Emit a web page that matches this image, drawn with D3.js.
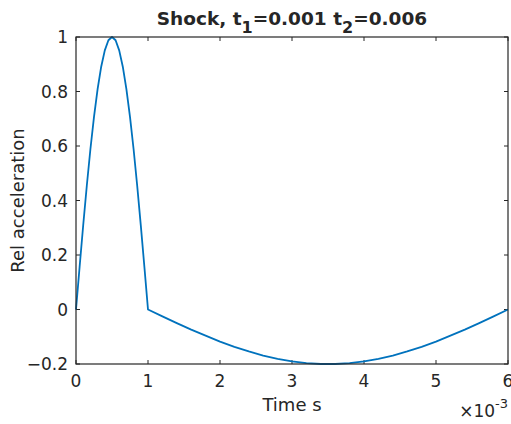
<!DOCTYPE html>
<html>
<head>
<meta charset="utf-8">
<style>
  body { margin: 0; background: #fff; }
  text { font-family: "DejaVu Sans", sans-serif; fill: #262626; }
</style>
</head>
<body>
<svg width="511" height="424"></svg>
<script src="https://d3js.org/d3.v7.min.js"></script>
<script>
// time in units of 1e-3 s
const pulseTime = [0, 0.05, 0.1, 0.15, 0.2, 0.25, 0.3, 0.35, 0.4, 0.45, 0.5,
                   0.55, 0.6, 0.65, 0.7, 0.75, 0.8, 0.85, 0.9, 0.95, 1.0];
const pulseValue = [0, 0.156, 0.309, 0.454, 0.588, 0.707, 0.809, 0.891, 0.951, 0.988, 1,
                    0.988, 0.951, 0.891, 0.809, 0.707, 0.588, 0.454, 0.309, 0.156, 0];
const tailTime = [1.2, 1.4, 1.6, 1.8, 2.0, 2.2, 2.4, 2.6, 2.8, 3.0, 3.2, 3.4,
                  3.6, 3.8, 4.0, 4.2, 4.4, 4.6, 4.8, 5.0, 5.2, 5.4, 5.6, 5.8, 6.0];
const tailValue = [-0.025, -0.050, -0.074, -0.096, -0.118, -0.137, -0.154, -0.169, -0.181, -0.190, -0.197, -0.200,
                   -0.200, -0.197, -0.190, -0.181, -0.169, -0.154, -0.137, -0.118, -0.096, -0.074, -0.050, -0.025, 0];
const xTicks = [0, 1, 2, 3, 4, 5, 6];
const yTicks = [-0.2, 0, 0.2, 0.4, 0.6, 0.8, 1];

const svg = d3.select("svg");
const mLeft = 76, mRight = 508, mTop = 37, mBottom = 364;

const x = d3.scaleLinear().domain([0, 6]).range([mLeft, mRight]);
const y = d3.scaleLinear().domain([-0.2, 1]).range([mBottom, mTop]);

const pts = pulseTime.map((t, i) => [t, pulseValue[i]])
  .concat(tailTime.map((t, i) => [t, tailValue[i]]));

const axisColor = "#262626";
const tickLen = 4;

// ticks (inward, on all four sides)
const g = svg.append("g").attr("stroke", axisColor).attr("stroke-width", 1);
xTicks.forEach(t => {
  g.append("line").attr("x1", x(t)).attr("x2", x(t)).attr("y1", mBottom).attr("y2", mBottom - tickLen);
  g.append("line").attr("x1", x(t)).attr("x2", x(t)).attr("y1", mTop).attr("y2", mTop + tickLen);
});
yTicks.forEach(v => {
  g.append("line").attr("x1", mLeft).attr("x2", mLeft + tickLen).attr("y1", y(v)).attr("y2", y(v));
  g.append("line").attr("x1", mRight).attr("x2", mRight - tickLen).attr("y1", y(v)).attr("y2", y(v));
});

// data line
svg.append("path")
  .datum(pts)
  .attr("fill", "none")
  .attr("stroke", "#0072BD")
  .attr("stroke-width", 1.8)
  .attr("stroke-linejoin", "round")
  .attr("d", d3.line().x(d => x(d[0])).y(d => y(d[1])));

// box
svg.append("rect")
  .attr("x", mLeft).attr("y", mTop)
  .attr("width", mRight - mLeft).attr("height", mBottom - mTop)
  .attr("fill", "none").attr("stroke", axisColor).attr("stroke-width", 1.2);

// tick labels
svg.selectAll(".xl").data(xTicks).join("text")
  .attr("x", d => x(d)).attr("y", mBottom + 23)
  .attr("text-anchor", "middle").attr("font-size", 17)
  .text(d => d);
svg.selectAll(".yl").data(yTicks).join("text")
  .attr("x", mLeft - 8).attr("y", d => y(d) + 6)
  .attr("text-anchor", "end").attr("font-size", 17)
  .text(d => d3.format("~g")(d));

// exponent
const ex = svg.append("text").attr("x", 508).attr("y", 417)
  .attr("text-anchor", "end").attr("font-size", 17);
ex.append("tspan").text("×10");
ex.append("tspan").attr("dy", -9).attr("font-size", 13).text("-3");

// axis labels
svg.append("text").attr("x", (mLeft + mRight) / 2).attr("y", 411)
  .attr("text-anchor", "middle").attr("font-size", 18).text("Time s");
svg.append("text")
  .attr("transform", `translate(24,${(mTop + mBottom) / 2}) rotate(-90)`)
  .attr("text-anchor", "middle").attr("font-size", 18).text("Rel acceleration");

// title
const ti = svg.append("text").attr("x", (mLeft + mRight) / 2).attr("y", 25)
  .attr("text-anchor", "middle").attr("font-size", 18.5).attr("font-weight", "bold")
  .attr("fill", "#000");
ti.append("tspan").text("Shock, t");
ti.append("tspan").attr("dy", 8).attr("font-size", 16).text("1");
ti.append("tspan").attr("dy", -8).text("=0.001 t");
ti.append("tspan").attr("dy", 8).attr("font-size", 16).text("2");
ti.append("tspan").attr("dy", -8).text("=0.006");
</script>
</body>
</html>
